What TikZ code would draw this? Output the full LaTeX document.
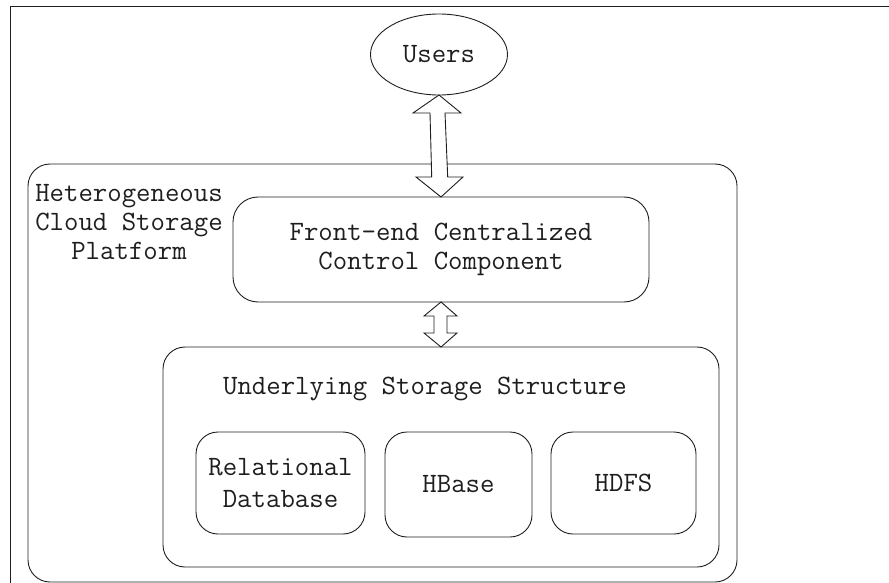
\documentclass[tikz,border=0pt]{standalone}
\usepackage{fontspec}
\usetikzlibrary{shapes.geometric}
\definecolor{ink}{HTML}{1E1E1E}
\begin{document}
\begin{tikzpicture}[x=1pt,y=-1pt,
  every node/.style={inner sep=0pt,outer sep=0pt,text=ink,
    font=\ttfamily\fontsize{28}{29}\selectfont},
  edge/.style={draw=ink,line width=0.9pt},
  rbox/.style={edge,rectangle,rounded corners=#1},
  rbox/.default=22pt,
  blockarrow/.style={edge,fill=white,line join=miter}]
\useasboundingbox (0,0) rectangle (889,583);
% outer frame (only its top and left sides fall inside the page)
\draw[edge] (10,600) -- (10,6) -- (900,6);

% platform container
\node[rbox, minimum width=709pt, minimum height=418pt] (platform) at (382.5,373) {};
\node[align=center] (ptitle) at (129,222) {Heterogeneous\\Cloud Storage\\Platform};

% users
\node[edge, ellipse, minimum width=137pt, minimum height=81pt] (users) at (439,54.5) {Users};

% front-end component
\node[rbox=25pt, minimum width=416pt, minimum height=105pt, align=center] (front) at (441,249.5)
  {Front-end Centralized\\Control Component};

% storage structure
\node[rbox, minimum width=556pt, minimum height=220pt] (under) at (441,457) {};
\node (utitle) at (425,389) {Underlying Storage Structure};

\node[rbox, minimum width=169pt, minimum height=102pt, align=center,
  font=\ttfamily\fontsize{28}{32}\selectfont] (rdb) at (280.5,483) {Relational\\Database};
\node[rbox, minimum width=147pt, minimum height=105pt] (hbase) at (458.5,484.5) {HBase};
\node[rbox, minimum width=145pt, minimum height=102pt] (hdfs) at (623.5,483) {HDFS};

% double block arrows
\draw[blockarrow] (users.south) -- (461,113) -- (445,113) -- (447.7,177) -- (463,177)
  -- (front.north) -- (416,177) -- (431.7,177) -- (430,113) -- (413,113) -- cycle;
\draw[blockarrow] (front.south) -- (457,316) -- (447,316) -- (447,333) -- (457,333)
  -- (under.north) -- (424,333) -- (434,333) -- (434,316) -- (424,316) -- cycle;
\end{tikzpicture}
\end{document}
